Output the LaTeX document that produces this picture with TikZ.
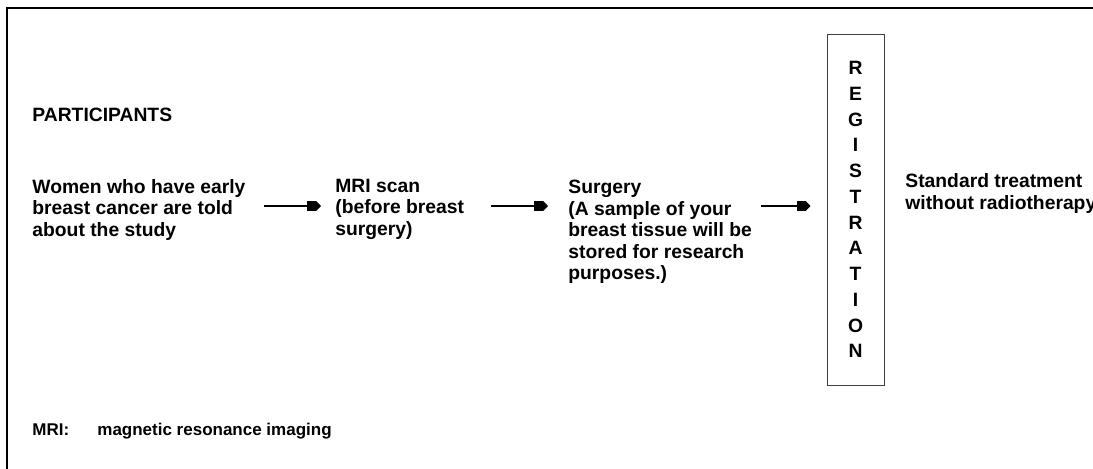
\documentclass[tikz,border=0pt]{standalone}
\usepackage{fontspec}
\setmainfont{Liberation Sans}
\usetikzlibrary{arrows.meta,positioning}

\begin{document}
\begin{tikzpicture}[x=0.5pt,y=-0.5pt,
  txt/.style={inner sep=0pt, align=left, anchor=north west, font=\bfseries\fontsize{9.65}{10.75}\selectfont},
  note/.style={inner sep=0pt, anchor=base west, font=\bfseries\fontsize{8.5}{10}\selectfont},
  regbox/.style={draw=black!75, line width=0.5pt, minimum width=28.5pt, minimum height=175.5pt, inner sep=0pt, align=center, font=\bfseries\fontsize{9.65}{12.875}\selectfont},
  arrow/.style={-{Square[length=4.5pt,width=5pt]Triangle[length=2.5pt,width=5pt]}, line width=1pt}
]
\useasboundingbox (0,0) rectangle (1093,468);
\clip (0,0) rectangle (1093,468);
\draw[line width=1pt] (7,8) rectangle (1120,490);
\node[txt, anchor=base west] (head) at (32,121) {PARTICIPANTS};
\node[txt] (women) at (32,179) {Women who have early\\breast cancer are told\\about the study};
\node[txt] (mri) at (335,178.5) {MRI scan\\(before breast\\surgery)};
\node[txt] (surgery) at (568,180) {Surgery\\(A sample of your\\breast tissue will be\\stored for research\\purposes.)};
\node[regbox] (reg) at (855.5,209.5) {R\\E\\G\\I\\S\\T\\R\\A\\T\\I\\O\\N};
\node[txt] (standard) at (905,173.5) {Standard treatment\\without radiotherapy};
\coordinate (flow) at (0,206);
\draw[arrow, shorten <=9pt, shorten >=7pt] (women.east |- flow) -- (mri.west |- flow);
\draw[arrow, shorten <=13pt, shorten >=10pt] (mri.east |- flow) -- (surgery.west |- flow);
\draw[arrow, shorten <=4.5pt, shorten >=8pt] (surgery.east |- flow) -- (reg.west |- flow);
\node[note] (abbr) at (32,435) {MRI:};
\node[note] (abbrtext) at (97,435) {magnetic resonance imaging};
\end{tikzpicture}
\end{document}
